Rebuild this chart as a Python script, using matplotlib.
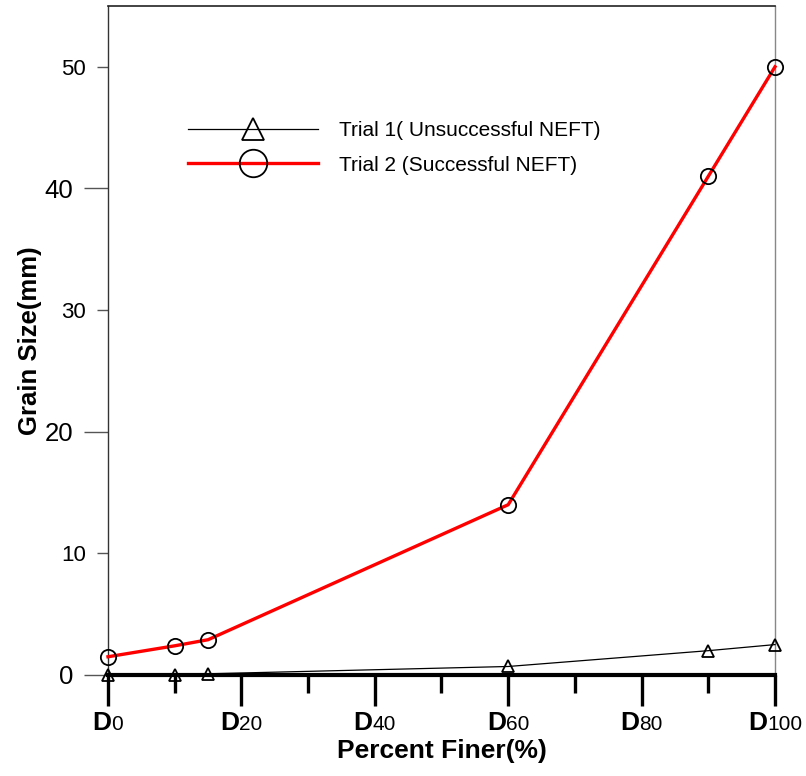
import matplotlib
matplotlib.use("Agg")
import matplotlib.pyplot as plt
from matplotlib.offsetbox import TextArea, HPacker, AnnotationBbox
from matplotlib.ticker import MultipleLocator, FixedLocator, FixedFormatter

plt.rcParams['font.family'] = ['Liberation Sans', 'DejaVu Sans']

# Data
percent = [0, 10, 15, 60, 90, 100]
trial1 = [0.0, 0.0, 0.1, 0.7, 2.0, 2.5]
trial2 = [1.5, 2.4, 2.9, 14.0, 41.0, 50.0]
labels = ["Trial 1( Unsuccessful NEFT)", "Trial 2 (Successful NEFT)"]
xtick_vals = [0, 20, 40, 60, 80, 100]
ytick_major = [0, 20, 40]
ytick_minor = [10, 30, 50]

fig = plt.figure(figsize=(8.06, 7.76), dpi=100)
ax = fig.add_axes([108/806, 1 - 675/776, (775-108)/806, (675-6)/776])

l1, = ax.plot(percent, trial1, color='black', lw=0.9, marker='^', ms=9,
              mfc='none', mec='black', mew=1.3, clip_on=False, zorder=4)
l2, = ax.plot(percent, trial2, color='red', lw=2.4, marker='o', ms=11,
              mfc='none', mec='black', mew=1.3, clip_on=False, zorder=3)

ax.set_xlim(0, 100)
ax.set_ylim(0, 55)

ax.spines['bottom'].set_linewidth(3)
ax.spines['bottom'].set_color('black')
ax.spines['bottom'].set_zorder(5)
ax.spines['left'].set_linewidth(1)
ax.spines['left'].set_color('#333333')
ax.spines['top'].set_linewidth(1.2)
ax.spines['top'].set_color('#222222')
ax.spines['right'].set_linewidth(1)
ax.spines['right'].set_color('#888888')

ax.set_xticks(xtick_vals)
ax.xaxis.set_minor_locator(MultipleLocator(10))
ax.tick_params(axis='x', which='major', direction='out', length=22, width=2.4,
               color='black', labelbottom=False)
ax.tick_params(axis='x', which='minor', direction='out', length=13, width=2.4,
               color='black', labelbottom=False)

ax.yaxis.set_major_locator(FixedLocator(ytick_major))
ax.yaxis.set_major_formatter(FixedFormatter([str(v) for v in ytick_major]))
ax.yaxis.set_minor_locator(FixedLocator(ytick_minor))
ax.yaxis.set_minor_formatter(FixedFormatter([str(v) for v in ytick_minor]))
ax.tick_params(axis='y', which='major', direction='out', length=17, width=1,
               color='#555555', labelsize=18.5, pad=8)
ax.tick_params(axis='y', which='minor', direction='out', length=8, width=1,
               color='#555555', labelsize=16, pad=8)

# Custom x tick labels: bold "D" + regular number
for v in xtick_vals:
    ta1 = TextArea("D", textprops=dict(fontsize=19, fontweight='bold'))
    ta2 = TextArea(str(v), textprops=dict(fontsize=15))
    box = HPacker(children=[ta1, ta2], align='baseline', pad=0, sep=0)
    ab = AnnotationBbox(box, (v, 0), xycoords=('data', 'axes fraction'),
                        xybox=(0, -26), boxcoords='offset points',
                        box_alignment=(0.5, 1), frameon=False,
                        annotation_clip=False)
    ax.add_artist(ab)

ax.set_xlabel("Percent Finer(%)", fontsize=19, fontweight='bold', labelpad=24)
ax.set_ylabel("Grain Size(mm)", fontsize=18.5, fontweight='bold', labelpad=2)

ax.legend([l1, l2], labels, loc='upper left', bbox_to_anchor=(0.12, 0.828),
          frameon=False, fontsize=15, handlelength=6.25, handletextpad=1.0,
          labelspacing=0.75, markerscale=1.8, borderpad=0, borderaxespad=0)

fig.savefig("out.png", dpi=100)
